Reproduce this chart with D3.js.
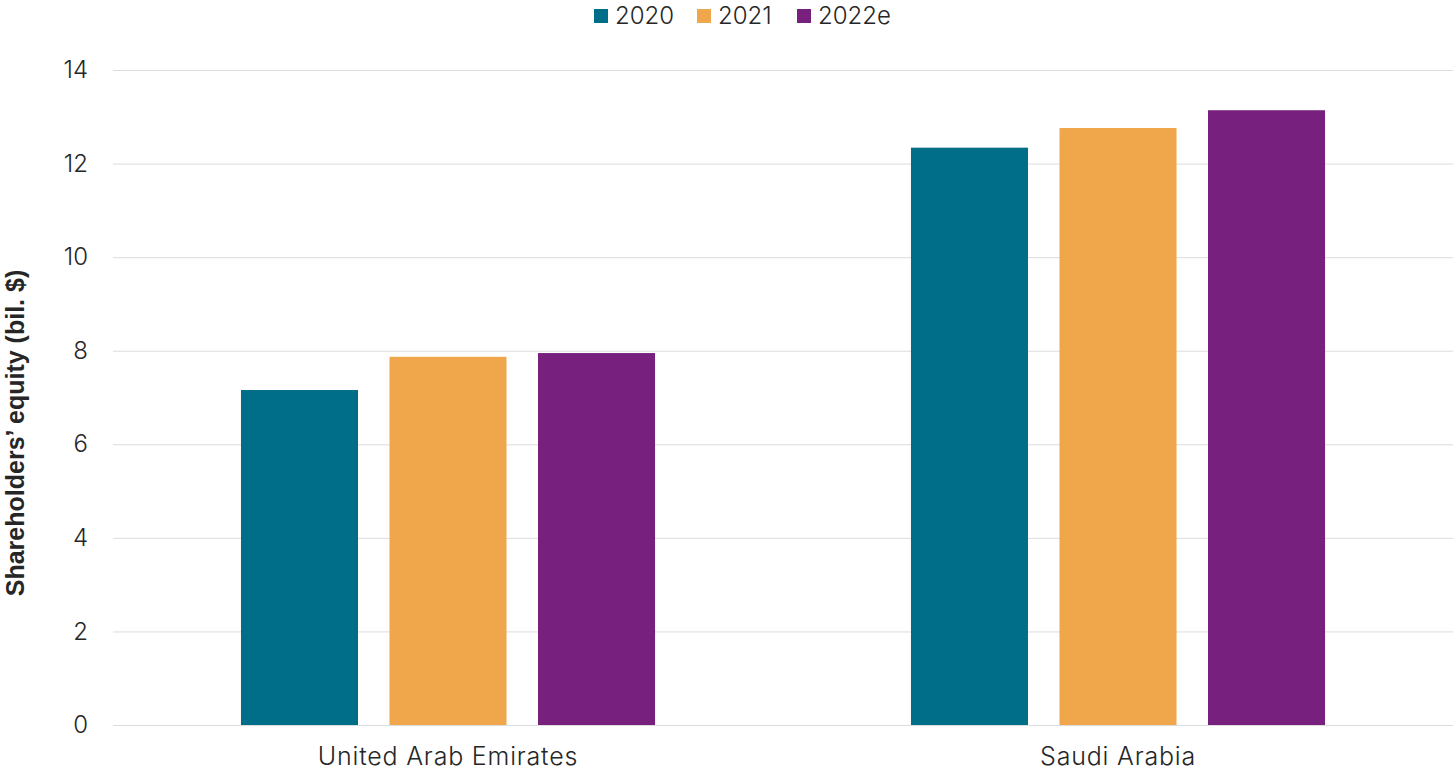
<html>
  <head>
    <script src="https://d3js.org/d3.v7.min.js"></script>
    <style>
      body { margin: 0; background: #fff; }
      text { font-family: Inter, Roboto, sans-serif; fill: #262626; }
    </style>
  </head>
  <body>
<div id="chart"></div>
<script>
// data
var countries = ["United Arab Emirates", "Saudi Arabia"];
var years = ["2020", "2021", "2022e"];
var colors = ["#006e89", "#f0a74c", "#77207e"];
var equity2020 = [7.16, 12.34];
var equity2021 = [7.87, 12.76];
var equity2022e = [7.95, 13.14];
var yTicks = [0, 2, 4, 6, 8, 10, 12, 14];

var seriesValues = [equity2020, equity2021, equity2022e];

var width = 1456, height = 771;
var margin = {top: 70, right: 3, bottom: 46, left: 113};

var svg = d3.select("#chart")
  .append("svg")
    .attr("width", width)
    .attr("height", height);

// scales
var y = d3.scaleLinear()
  .domain([0, 14])
  .range([height - margin.bottom, margin.top]);

var x0 = d3.scaleBand()
  .domain(countries)
  .range([margin.left, width - margin.right])
  .paddingInner(0.382)
  .paddingOuter(0.191);

var x1 = d3.scaleBand()
  .domain(years)
  .range([0, x0.bandwidth()])
  .paddingInner(0.212);

// gridlines
svg.append("g")
  .selectAll("line")
  .data(yTicks)
  .enter()
  .append("line")
    .attr("x1", margin.left)
    .attr("x2", width - margin.right)
    .attr("y1", function (d) { return y(d) + 0.5; })
    .attr("y2", function (d) { return y(d) + 0.5; })
    .attr("stroke", "#dcdcdc")
    .attr("stroke-width", 1);

// y axis labels
var yAxis = svg.append("g")
  .attr("transform", "translate(" + (margin.left - 25) + ",0)")
  .call(d3.axisLeft(y).tickValues(yTicks).tickSize(0).tickPadding(0));
yAxis.select(".domain").remove();
yAxis.selectAll("text")
  .style("font-family", "Inter, Roboto, sans-serif")
  .style("font-size", "24px")
  .style("font-weight", "300")
  .attr("fill", "#262626");

// bars
var groups = svg.append("g")
  .selectAll("g")
  .data(countries)
  .enter()
  .append("g")
    .attr("transform", function (d) { return "translate(" + x0(d) + ",0)"; });

groups.selectAll("rect")
  .data(function (d, i) {
    return years.map(function (yr, j) { return {year: yr, value: seriesValues[j][i], color: colors[j]}; });
  })
  .enter()
  .append("rect")
    .attr("x", function (d) { return x1(d.year); })
    .attr("y", function (d) { return y(d.value); })
    .attr("width", x1.bandwidth())
    .attr("height", function (d) { return y(0) - y(d.value); })
    .attr("fill", function (d) { return d.color; });

// x axis labels
var xAxis = svg.append("g")
  .attr("transform", "translate(0," + (y(0) + 14) + ")")
  .call(d3.axisBottom(x0).tickSize(0).tickPadding(8));
xAxis.select(".domain").remove();
xAxis.selectAll("text")
  .style("font-family", "Inter, Roboto, sans-serif")
  .style("font-size", "25px")
  .style("font-weight", "300")
  .style("letter-spacing", "0.8px")
  .attr("fill", "#262626");

// y axis title
svg.append("text")
  .attr("text-anchor", "middle")
  .attr("transform", "translate(24,433) rotate(-90)")
  .style("font-family", "'Liberation Sans', Arial, sans-serif")
  .style("font-size", "25px")
  .style("font-weight", "bold")
  .attr("fill", "#111")
  .text("Shareholders\u2019 equity (bil. $)");

// legend
var legendX = [594, 697, 797];
var legend = svg.append("g")
  .selectAll("g")
  .data(years)
  .enter()
  .append("g")
    .attr("transform", function (d, i) { return "translate(" + legendX[i] + ",9)"; });
legend.append("rect")
  .attr("width", 14)
  .attr("height", 14)
  .attr("fill", function (d, i) { return colors[i]; });
legend.append("text")
  .attr("x", 21)
  .attr("y", 7)
  .attr("dy", "0.35em")
  .style("font-size", "24px")
  .style("font-weight", "300")
  .text(function (d) { return d; });
</script>
  </body>
</html>
